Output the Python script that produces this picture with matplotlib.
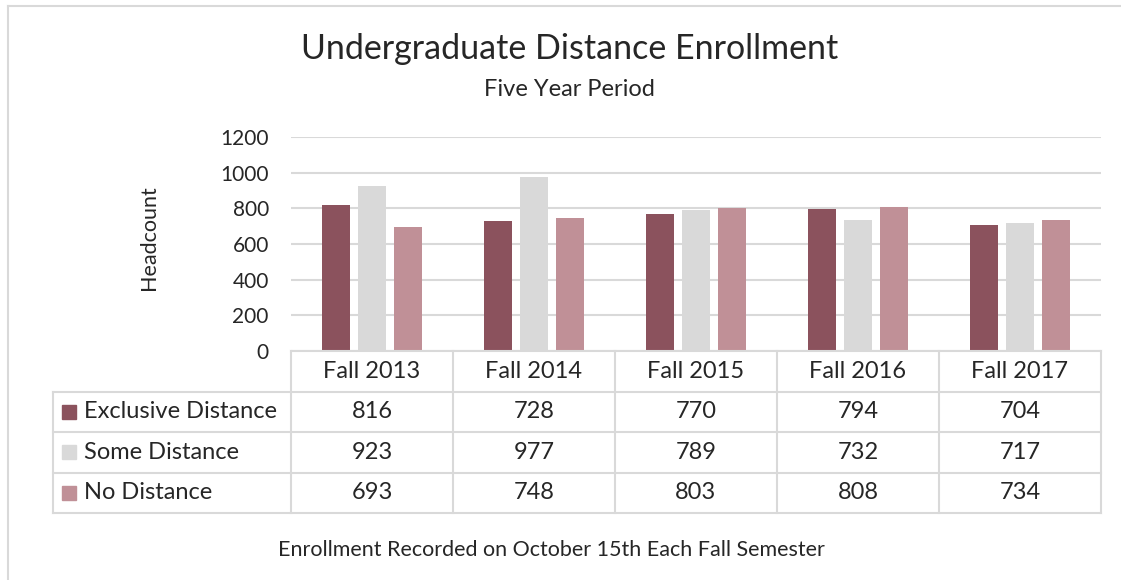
import matplotlib.pyplot as plt
from matplotlib.patches import Rectangle
from matplotlib.lines import Line2D

plt.rcParams['font.family'] = ['Lato', 'DejaVu Sans']

years = ["Fall 2013", "Fall 2014", "Fall 2015", "Fall 2016", "Fall 2017"]
series = ["Exclusive Distance", "Some Distance", "No Distance"]
exclusive = [816, 728, 770, 794, 704]
some = [923, 977, 789, 732, 717]
none_ = [693, 748, 803, 808, 734]
values = [exclusive, some, none_]
colors = ["#8B525D", "#D9D9D9", "#C09097"]
grid_c = "#D9D9D9"
txt_c = "#262626"

W, H = 1121, 580
fig = plt.figure(figsize=(W / 100, H / 100), dpi=100)

def box(x0, y0, x1, y1):
    # pixel box (top-left origin) -> figure fractions
    return [x0 / W, 1 - y1 / H, (x1 - x0) / W, (y1 - y0) / H]

# outer chart border
fig.add_artist(Line2D([8 / W, 8 / W], [0, 1 - 6 / H], color=grid_c, lw=1.5))
fig.add_artist(Line2D([8 / W, 1], [1 - 6 / H, 1 - 6 / H], color=grid_c, lw=1.5))

# bar chart
ax = fig.add_axes(box(291, 137, 1101, 351))
bw = 28 / 162
step = 36 / 162
for k, (vals, c) in enumerate(zip(values, colors)):
    xs = [i + (k - 1) * step for i in range(len(years))]
    ax.bar(xs, vals, width=bw, color=c, zorder=3)
ax.set_xlim(-0.5, len(years) - 0.5)
ax.set_ylim(0, 1200)
ax.set_yticks(range(0, 1201, 200))
ax.yaxis.grid(True, color=grid_c, lw=1.5, zorder=0)
ax.set_xticks([])
for s in ax.spines.values():
    s.set_visible(False)
ax.tick_params(axis='y', length=0, labelsize=15, labelcolor=txt_c, pad=16)
ax.set_ylabel("Headcount", fontsize=15.5, color=txt_c)
ax.yaxis.set_label_coords(-132 / 810, 0.53)

# data table under the chart
tab = fig.add_axes(box(53, 351, 1101, 513))
lab_w = 238 / 162
tab.set_xlim(-0.5 - lab_w, len(years) - 0.5)
tab.set_ylim(len(series) + 1, 0)
tab.axis('off')
lk = dict(color=grid_c, lw=1.5, clip_on=False)
# header row
tab.plot([-0.5, len(years) - 0.5], [0, 0], **lk)
for r in range(1, len(series) + 2):
    tab.plot([-0.5 - lab_w, len(years) - 0.5], [r, r], **lk)
tab.plot([-0.5 - lab_w, -0.5 - lab_w], [1, len(series) + 1], **lk)
for i in range(len(years) + 1):
    tab.plot([i - 0.5, i - 0.5], [0, len(series) + 1], **lk)
for i, y in enumerate(years):
    tab.text(i, 0.5, y, ha='center', va='center', fontsize=17, color=txt_c)
for r, (name, vals, c) in enumerate(zip(series, values, colors)):
    yc = r + 1.5
    tab.add_patch(Rectangle((-0.5 - lab_w + 9 / 162, yc - 0.17), 14 / 162, 0.34,
                            color=c, clip_on=False))
    tab.text(-0.5 - lab_w + 31 / 162, yc, name, ha='left', va='center',
             fontsize=17, color=txt_c)
    for i, v in enumerate(vals):
        tab.text(i, yc, str(v), ha='center', va='center', fontsize=17, color=txt_c)

fig.text(570 / W, 1 - 49 / H, "Undergraduate Distance Enrollment", ha='center',
         va='center', fontsize=24.5, color=txt_c)
fig.text(569 / W, 1 - 89 / H, "Five Year Period", ha='center', va='center',
         fontsize=17, color=txt_c)
fig.text(551 / W, 1 - 550 / H, "Enrollment Recorded on October 15th Each Fall Semester",
         ha='center', va='center', fontsize=15.5, color=txt_c)

fig.savefig("out.png", dpi=100)
